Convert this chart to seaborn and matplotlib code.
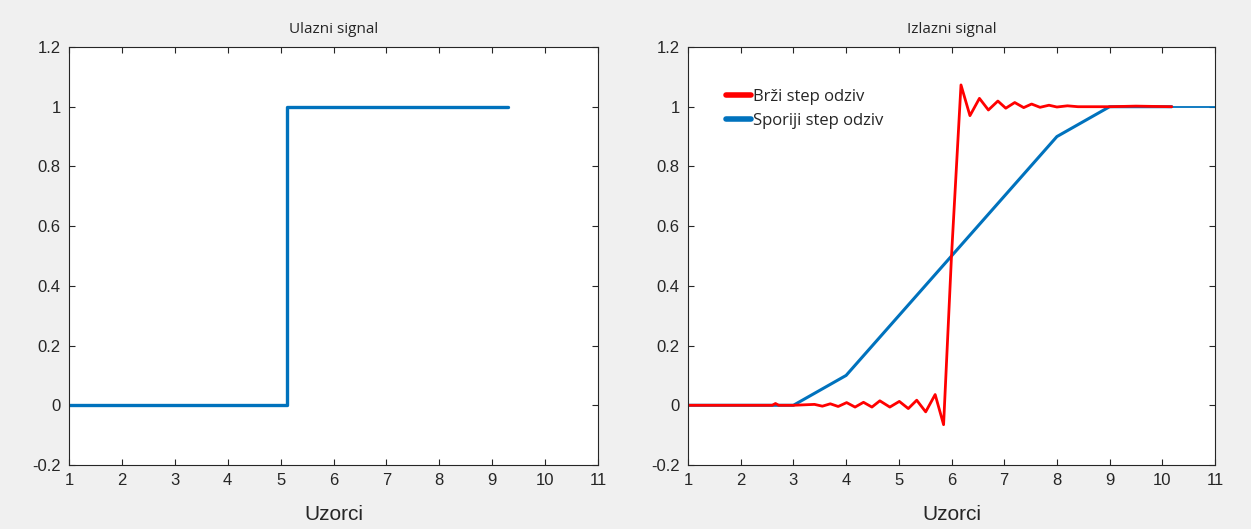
import numpy as np
import pandas as pd
import matplotlib
matplotlib.use('Agg')
import matplotlib.pyplot as plt
import seaborn as sns

# ulazni signal (step)
ulaz_x = [1, 5.13, 5.13, 9.3]
ulaz_y = [0, 0, 1, 1]

# brzi odziv (crveno) - ocitano sa slike
brzi_x = [1, 2.6, 2.66, 2.72, 3.0, 3.4, 3.55, 3.7, 3.85, 4.01, 4.17, 4.33, 4.49, 4.64,
          4.83, 5.01, 5.18, 5.34, 5.51, 5.69, 5.85, 6.0, 6.18, 6.35, 6.53, 6.70,
          6.88, 7.03, 7.20, 7.37, 7.52, 7.68, 7.85, 8.0, 8.2, 8.4, 9.0, 9.5, 10.18]
brzi_y = [0, 0, 0.006, 0, 0, 0.003, -0.003, 0.005, -0.004, 0.009, -0.006, 0.01, -0.006, 0.015,
          -0.006, 0.013, -0.011, 0.017, -0.022, 0.036, -0.065, 0.5, 1.073, 0.97, 1.028, 0.989,
          1.019, 0.995, 1.014, 0.997, 1.009, 0.998, 1.005, 0.999, 1.003, 1.0, 1.0, 1.002, 1.0]

# sporiji odziv (plavo)
spori_x = [1, 3, 4, 8, 9, 10.18]
spori_y = [0, 0, 0.1, 0.9, 1, 1]
spori_rep_x = [10.18, 11]
spori_rep_y = [1, 1]

x_ticks = list(range(1, 12))
y_ticks = [-0.2, 0, 0.2, 0.4, 0.6, 0.8, 1, 1.2]

sns.set_theme(style='white')
plt.rcParams['font.family'] = ['Liberation Sans', 'DejaVu Sans']

BLUE = '#0072BD'
BG = '#f0f0f0'

fig = plt.figure(figsize=(12.51, 5.29), dpi=100, facecolor=BG)
ax1 = fig.add_axes([69/1251, 64/529, 529/1251, 418/529])
ax2 = fig.add_axes([688/1251, 64/529, 527/1251, 418/529])

sns.lineplot(x=ulaz_x, y=ulaz_y, ax=ax1, color=BLUE, lw=2.4, sort=False, estimator=None)

# plava ispod crvene
sns.lineplot(x=spori_rep_x, y=spori_rep_y, ax=ax2, color=BLUE, lw=1.3, sort=False, estimator=None)
sns.lineplot(x=spori_x, y=spori_y, ax=ax2, color=BLUE, lw=2.2, sort=False, estimator=None,
             label='Sporiji step odziv')
sns.lineplot(x=brzi_x, y=brzi_y, ax=ax2, color='#ff0000', lw=2.0, sort=False, estimator=None,
             label='Brži step odziv')

def labels(v):
    return [('%g' % t) for t in v]

for ax, title in [(ax1, 'Ulazni signal'), (ax2, 'Izlazni signal')]:
    ax.set_facecolor('white')
    ax.set_xlim(1, 11)
    ax.set_ylim(-0.2, 1.2)
    ax.set_xticks(x_ticks)
    ax.set_xticklabels(labels(x_ticks))
    ax.set_yticks(y_ticks)
    ax.set_yticklabels(labels(y_ticks))
    ax.tick_params(direction='in', length=4, width=0.8, color='#262626',
                   labelsize=12, labelcolor='#262626', top=True, right=True,
                   bottom=True, left=True, pad=6)
    for s in ax.spines.values():
        s.set_color('#262626')
        s.set_linewidth(0.8)
    ax.set_title(title, fontsize=11, family=['Open Sans', 'DejaVu Sans'], pad=10)
    ax.set_xlabel('Uzorci', fontsize=15, labelpad=12)
    ax.set_ylabel('')

handles, labs = ax2.get_legend_handles_labels()
leg = ax2.legend(handles[::-1], labs[::-1], loc='upper left', bbox_to_anchor=(0.06, 0.915),
                 frameon=False, fontsize=12, handlelength=1.5, handletextpad=0.1,
                 borderaxespad=0, labelspacing=0.45)
for h in leg.get_lines():
    h.set_linewidth(4)
for t in leg.get_texts():
    t.set_family(['Open Sans', 'DejaVu Sans'])

fig.savefig('out.png', dpi=100, facecolor=BG)
